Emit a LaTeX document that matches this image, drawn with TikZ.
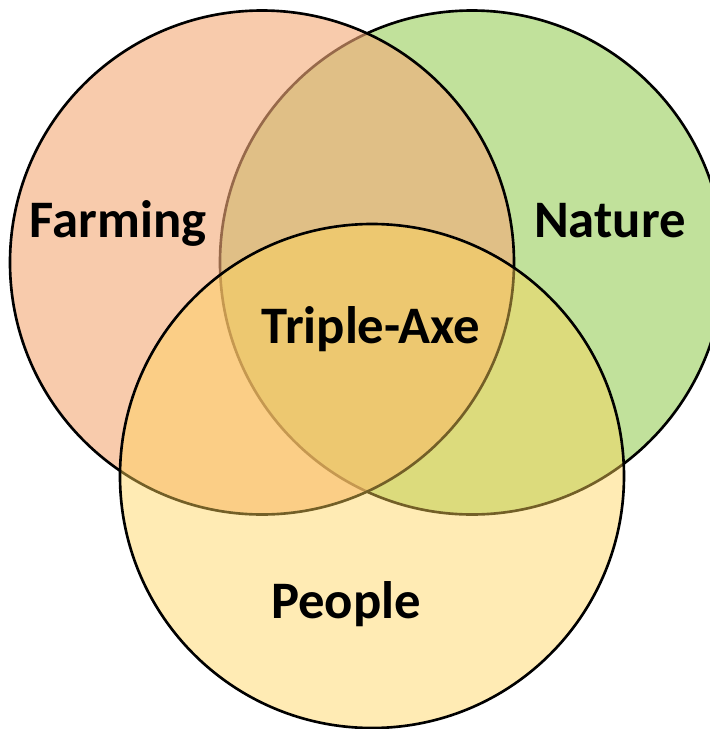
\documentclass[tikz,border=0pt]{standalone}
\usepackage{fontspec}
\setmainfont{Carlito}
\usepackage{tikz}

\definecolor{farmcol}{RGB}{244,171,121}
\definecolor{naturecol}{RGB}{155,207,94}
\definecolor{peoplecol}{RGB}{255,211,88}

\begin{document}
\begin{tikzpicture}[
	every node/.style = {font=\bfseries\fontsize{15}{18}\selectfont, text=black},
	set/.style = {draw=black, line width=0.75pt}]
	\useasboundingbox (0,0) rectangle (7.10,7.29);
	\clip (0,0) rectangle (7.10,7.29);
	% the three sets, bottom one first
	\draw[set, fill=naturecol, fill opacity=0.62] (4.72,4.665) circle (2.52);
	\draw[set, fill=farmcol, fill opacity=0.62] (2.62,4.665) circle (2.52);
	\draw[set, fill=peoplecol, fill opacity=0.45] (3.72,2.53) circle (2.52);
	% labels
	\node[anchor=base] (farming) at (1.18,4.92) {Farming};
	\node[anchor=base] (nature) at (6.10,4.92) {Nature};
	\node[anchor=base] (triple) at (3.71,3.86) {Triple-Axe};
	\node[anchor=base] (people) at (3.46,1.11) {People};
\end{tikzpicture}
\end{document}
